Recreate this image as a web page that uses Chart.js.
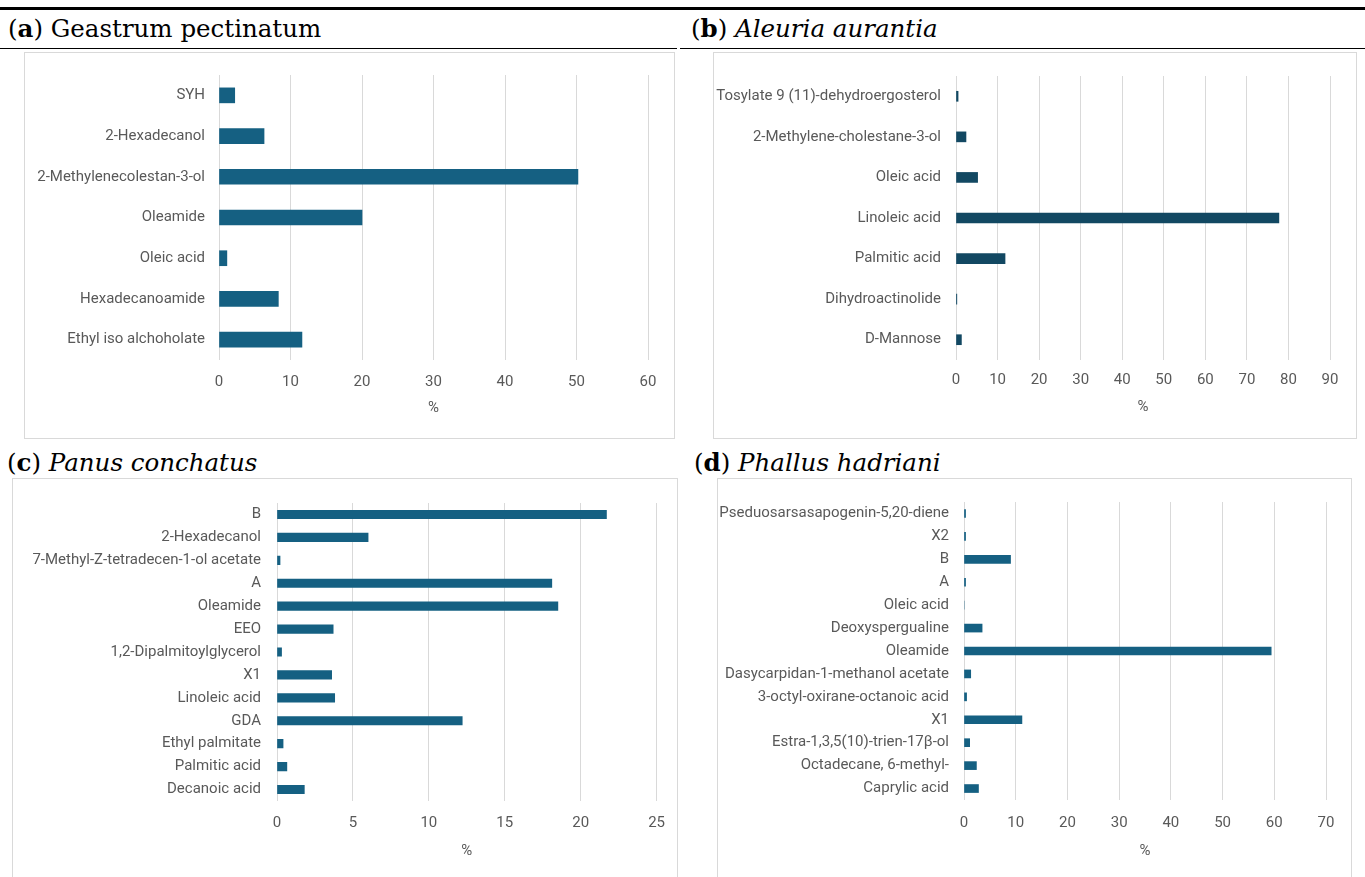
<!DOCTYPE html>
<html>
<head>
<meta charset="utf-8">
<script src="https://cdn.jsdelivr.net/npm/chart.js@4.4.1/dist/chart.umd.min.js"></script>
<style>
  html, body { margin: 0; padding: 0; background: #fff; }
  body { width: 1365px; height: 877px; position: relative; overflow: hidden; }
  .rule { position: absolute; background: #000; }
  .ttl { position: absolute; font-family: "DejaVu Serif", serif; font-size: 24.5px; line-height: 24px; color: #000; white-space: nowrap; }
  .box { position: absolute; border: 1px solid #d9d9d9; box-sizing: border-box; }
  canvas { position: absolute; }
</style>
</head>
<body>
  <div class="rule" style="left:0;top:7px;width:1365px;height:2.5px"></div>
  <div class="rule" style="left:0;top:47.5px;width:677px;height:1.5px"></div>
  <div class="rule" style="left:680px;top:47.5px;width:685px;height:1.5px"></div>

  <div class="ttl" style="left:8px;top:17px">(<b>a</b>) Geastrum pectinatum</div>
  <div class="ttl" style="left:691px;top:17px">(<b>b</b>) <i>Aleuria aurantia</i></div>
  <div class="ttl" style="left:7px;top:451px">(<b>c</b>) <i>Panus conchatus</i></div>
  <div class="ttl" style="left:694px;top:451px">(<b>d</b>) <i>Phallus hadriani</i></div>

  <div class="box" style="left:24px;top:52px;width:651px;height:387px"></div>
  <div class="box" style="left:713px;top:52px;width:644px;height:387px"></div>
  <div class="box" style="left:12px;top:478px;width:666px;height:420px"></div>
  <div class="box" style="left:717px;top:478px;width:635px;height:420px"></div>

  <canvas id="chartA"></canvas>
  <canvas id="chartB"></canvas>
  <canvas id="chartC"></canvas>
  <canvas id="chartD"></canvas>

<script>
// (a) Geastrum pectinatum
const labelsA = ['SYH', '2-Hexadecanol', '2-Methylenecolestan-3-ol', 'Oleamide', 'Oleic acid', 'Hexadecanoamide', 'Ethyl iso alchoholate'];
const valuesA = [2.2, 6.3, 50.2, 20.0, 1.1, 8.3, 11.6];
const axisMaxA = 60, axisStepA = 10;

// (b) Aleuria aurantia
const labelsB = ['Tosylate 9 (11)-dehydroergosterol', '2-Methylene-cholestane-3-ol', 'Oleic acid', 'Linoleic acid', 'Palmitic acid', 'Dihydroactinolide', 'D-Mannose'];
const valuesB = [0.5, 2.4, 5.2, 77.7, 11.8, 0.2, 1.3];
const axisMaxB = 90, axisStepB = 10;

// (c) Panus conchatus
const labelsC = ['B', '2-Hexadecanol', '7-Methyl-Z-tetradecen-1-ol acetate', 'A', 'Oleamide', 'EEO', '1,2-Dipalmitoylglycerol', 'X1', 'Linoleic acid', 'GDA', 'Ethyl palmitate', 'Palmitic acid', 'Decanoic acid'];
const valuesC = [21.7, 6.0, 0.2, 18.1, 18.5, 3.7, 0.3, 3.6, 3.8, 12.2, 0.4, 0.65, 1.8];
const axisMaxC = 25, axisStepC = 5;

// (d) Phallus hadriani
const labelsD = ['Pseduosarsasapogenin-5,20-diene', 'X2', 'B', 'A', 'Oleic acid', 'Deoxyspergualine', 'Oleamide', 'Dasycarpidan-1-methanol acetate', '3-octyl-oxirane-octanoic acid', 'X1', 'Estra-1,3,5(10)-trien-17\u03B2-ol', 'Octadecane, 6-methyl-', 'Caprylic acid'];
const valuesD = [0.3, 0.3, 9.0, 0.3, 0, 3.5, 59.4, 1.3, 0.5, 11.2, 1.1, 2.4, 2.8];
const axisMaxD = 70, axisStepD = 10;

const TEXT = '#595959';
const GRID = '#d9d9d9';
const FONT = { family: 'Roboto, "Liberation Sans", sans-serif', size: 15 };

// Horizontal bar panel; geometry is the canvas box and the plot rectangle inside it.
function panel(id, g, labels, values, color, thickness, axisMax, axisStep) {
  const cv = document.getElementById(id);
  cv.style.left = g.x + 'px';
  cv.style.top = g.y + 'px';
  cv.width = g.w;
  cv.height = g.h;
  return new Chart(cv, {
    type: 'bar',
    data: {
      labels: labels,
      datasets: [{ data: values, backgroundColor: color, borderWidth: 0, barThickness: thickness }]
    },
    options: {
      indexAxis: 'y',
      responsive: false,
      animation: false,
      devicePixelRatio: 1,
      layout: { padding: { left: 0, top: g.top, right: g.w - g.right, bottom: 0 } },
      plugins: { legend: { display: false }, tooltip: { enabled: false } },
      scales: {
        x: {
          type: 'linear',
          min: 0,
          max: axisMax,
          ticks: { stepSize: axisStep, padding: g.tickPad, color: TEXT, font: FONT, maxRotation: 0 },
          grid: { color: GRID, lineWidth: 1, drawTicks: false },
          border: { display: false },
          title: { display: true, text: '%', color: TEXT, font: FONT, padding: { top: 0, bottom: g.titlePad } },
          afterFit(s) { s.height = g.h - g.bottom; }
        },
        y: {
          ticks: { padding: g.labelGap, color: TEXT, font: FONT, autoSkip: false },
          grid: { display: false, drawTicks: false },
          border: { display: false },
          afterFit(s) { s.width = g.left; }
        }
      }
    }
  });
}

panel('chartA', { x: 24, y: 52, w: 650, h: 386, left: 195, right: 624, top: 18, bottom: 308, tickPad: 13, titlePad: 21, labelGap: 14 },
      labelsA, valuesA, '#156082', 15, axisMaxA, axisStepA);
panel('chartB', { x: 713, y: 52, w: 643, h: 386, left: 243, right: 617, top: 19, bottom: 308, tickPad: 11, titlePad: 22, labelGap: 15 },
      labelsB, valuesB, '#124862', 10, axisMaxB, axisStepB);
panel('chartC', { x: 12, y: 478, w: 666, h: 399, left: 265, right: 648, top: 21, bottom: 323, tickPad: 13, titlePad: 17, labelGap: 16 },
      labelsC, valuesC, '#156082', 8.5, axisMaxC, axisStepC);
panel('chartD', { x: 717, y: 478, w: 635, h: 399, left: 247, right: 609, top: 21, bottom: 322, tickPad: 14, titlePad: 17, labelGap: 15 },
      labelsD, valuesD, '#156082', 8, axisMaxD, axisStepD);
</script>
</body>
</html>
